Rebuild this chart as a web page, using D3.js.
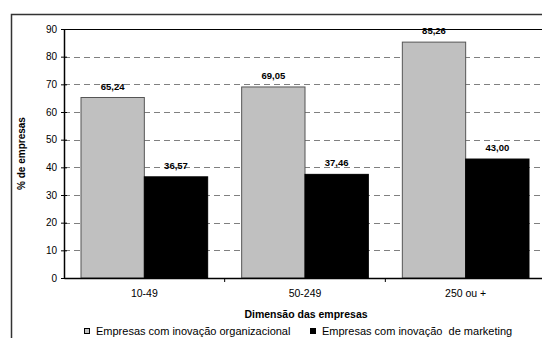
<!DOCTYPE html>
<html>
<head>
<meta charset="utf-8">
<script src="https://cdn.jsdelivr.net/npm/d3@7"></script>
<style>
  body { margin: 0; background: #fff; }
  svg { display: block; font-family: "Liberation Sans", Arial, sans-serif; }
</style>
</head>
<body>
<div id="chart"></div>
<script>
// data
const categories = ['10-49', '50-249', '250 ou +'];
const seriesNames = ['Empresas com inovação organizacional', 'Empresas com inovação  de marketing'];
const organizacional = [65.24, 69.05, 85.26];
const marketing = [36.57, 37.46, 43.00];
const yTicks = [0, 10, 20, 30, 40, 50, 60, 70, 80, 90];

const width = 542, height = 338;
const plot = {left: 64, right: 546, top: 29, bottom: 278};
const fills = ['#c0c0c0', '#000000'];

const svg = d3.select('#chart').append('svg')
    .attr('width', width).attr('height', height);

// outer chart frame
svg.append('rect')
    .attr('x', 11.5).attr('y', 14.5)
    .attr('width', 560).attr('height', 360)
    .attr('fill', '#fff').attr('stroke', '#333').attr('stroke-width', 1.5);

// scales
const x0 = d3.scaleBand().domain(categories).range([plot.left, plot.right]);
const x1 = d3.scaleBand().domain([0, 1]).range([17, x0.bandwidth() - 17]);
const y = d3.scaleLinear().domain([0, 90]).range([plot.bottom, plot.top]);

// gridlines
svg.append('g').selectAll('line')
    .data(yTicks.filter(t => t > 0 && t < 90))
    .join('line')
    .attr('x1', plot.left).attr('x2', plot.right)
    .attr('y1', d => Math.round(y(d)) + 0.5).attr('y2', d => Math.round(y(d)) + 0.5)
    .attr('stroke', '#808080').attr('stroke-dasharray', '6,4');

// top border of plot area
svg.append('line')
    .attr('x1', plot.left).attr('x2', plot.right)
    .attr('y1', plot.top + 0.5).attr('y2', plot.top + 0.5)
    .attr('stroke', '#000');

// bars
const rows = categories.map((c, i) => ({c, v: [organizacional[i], marketing[i]]}));
const groups = svg.append('g').selectAll('g')
    .data(rows).join('g')
    .attr('transform', d => `translate(${x0(d.c)},0)`);

groups.selectAll('rect')
    .data(d => d.v.map((v, s) => ({v, s})))
    .join('rect')
    .attr('x', d => x1(d.s))
    .attr('y', d => y(d.v))
    .attr('width', x1.bandwidth())
    .attr('height', d => y(0) - y(d.v))
    .attr('fill', d => fills[d.s])
    .attr('stroke', d => d.s === 0 ? '#555' : '#000')
    .attr('stroke-width', 1);

// value labels
groups.selectAll('text')
    .data(d => d.v.map((v, s) => ({v, s})))
    .join('text')
    .attr('x', d => x1(d.s) + x1.bandwidth() / 2)
    .attr('y', d => y(d.v) - 8)
    .attr('text-anchor', 'middle')
    .attr('font-size', 9.5).attr('font-weight', 'bold')
    .text(d => d.v.toFixed(2).replace('.', ','));

// y axis
const yAxis = svg.append('g')
    .attr('transform', `translate(${plot.left},0)`)
    .call(d3.axisLeft(y).tickValues(yTicks).tickSize(0).tickPadding(7));
yAxis.select('.domain').attr('stroke', '#000').attr('stroke-width', 1.5);
yAxis.selectAll('.tick text').attr('font-size', 10).attr('fill', '#000')
    .attr('font-family', '"Liberation Sans", Arial, sans-serif');
yAxis.selectAll('.tick').append('line')
    .attr('x1', -3).attr('x2', 3).attr('stroke', '#000');

// x axis
const xAxis = svg.append('g')
    .attr('transform', `translate(0,${plot.bottom})`)
    .call(d3.axisBottom(x0).tickSize(0).tickPadding(12));
xAxis.select('.domain').attr('stroke', '#000').attr('stroke-width', 1.5);
xAxis.selectAll('.tick text').attr('font-size', 10.5).attr('fill', '#000')
    .attr('font-family', '"Liberation Sans", Arial, sans-serif');
// category separators
svg.append('g').selectAll('line')
    .data(categories.slice(1))
    .join('line')
    .attr('x1', d => x0(d)).attr('x2', d => x0(d))
    .attr('y1', plot.bottom).attr('y2', plot.bottom + 4)
    .attr('stroke', '#000');

// axis titles
svg.append('text')
    .attr('transform', `translate(25,${(plot.top + plot.bottom) / 2}) rotate(-90)`)
    .attr('text-anchor', 'middle')
    .attr('font-size', 10).attr('font-weight', 'bold')
    .text('% de empresas');

svg.append('text')
    .attr('x', 306).attr('y', 318)
    .attr('text-anchor', 'middle')
    .attr('font-size', 10.5).attr('font-weight', 'bold')
    .text('Dimensão das empresas');

// legend
const legend = svg.append('g').attr('transform', 'translate(84,335)');
const legItems = [{x: 0, s: 0}, {x: 226, s: 1}];
legItems.forEach(it => {
    legend.append('rect')
        .attr('x', it.x + 0.5).attr('y', -6.5)
        .attr('width', 5).attr('height', 5)
        .attr('fill', fills[it.s]).attr('stroke', '#000');
    legend.append('text')
        .attr('x', it.x + 12).attr('y', 0)
        .attr('font-size', 11)
        .style('white-space', 'pre')
        .text(seriesNames[it.s]);
});
</script>
</body>
</html>
